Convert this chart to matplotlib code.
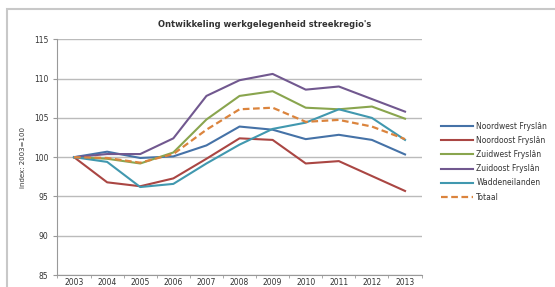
import matplotlib
matplotlib.use("Agg")
import matplotlib.pyplot as plt
from matplotlib.patches import Rectangle

years = [str(y) for y in range(2003, 2014)]
noordwest = [100, 100.7, 99.9, 100.1, 101.5, 103.9, 103.5, 102.3, 102.85, 102.2, 100.35]
noordoost = [100, 96.8, 96.3, 97.3, 99.8, 102.4, 102.2, 99.2, 99.5, 97.6, 95.7]
zuidwest = [100, 99.8, 99.2, 100.6, 104.8, 107.8, 108.4, 106.3, 106.1, 106.45, 104.9]
zuidoost = [100, 100.4, 100.4, 102.4, 107.8, 109.8, 110.6, 108.6, 109.0, 107.4, 105.8]
wadden = [100, 99.4, 96.2, 96.6, 99.2, 101.6, 103.6, 104.4, 106.1, 105.0, 102.2]
totaal = [100, 99.9, 99.3, 100.4, 103.5, 106.1, 106.3, 104.5, 104.75, 103.9, 102.3]

series = [
    ("Noordwest Fryslân", noordwest, "#4572A7", "-"),
    ("Noordoost Fryslân", noordoost, "#AA4643", "-"),
    ("Zuidwest Fryslân", zuidwest, "#89A54E", "-"),
    ("Zuidoost Fryslân", zuidoost, "#71588F", "-"),
    ("Waddeneilanden", wadden, "#4198AF", "-"),
    ("Totaal", totaal, "#DB843D", "--"),
]

fig = plt.figure(figsize=(5.55, 2.87), dpi=100)
# light gray frame around the chart (runs off the right and bottom edge)
fig.patches.append(Rectangle((7 / 555, -0.1), 1.2, 1 - 9 / 287 + 0.1,
                             transform=fig.transFigure, fill=False,
                             edgecolor="#C8C8C8", lw=1.5))

ax = fig.add_axes([0.1036, 0.0418, 0.656, 0.821])
x = list(range(len(years)))
for name, vals, col, ls in series:
    if ls == "--":
        ax.plot(x, vals, color=col, lw=1.6, ls=(0, (3, 1.6)), label=name)
    else:
        ax.plot(x, vals, color=col, lw=1.5, label=name)

ax.set_xlim(-0.5, len(years) - 0.5)
ax.set_ylim(85, 115)
ax.set_yticks(range(85, 116, 5))
ax.set_xticks(x)
ax.set_xticklabels(years)
ax.set_xticks([i - 0.5 for i in range(len(years) + 1)], minor=True)
ax.tick_params(axis="x", which="major", length=0, labelsize=5.5, pad=2, colors="#333333")
ax.tick_params(axis="x", which="minor", length=2.5, color="#999999")
ax.tick_params(axis="y", length=3, labelsize=5.5, colors="#333333", color="#999999")
ax.yaxis.grid(True, color="#BBBBBB", lw=1)
ax.set_axisbelow(True)
for s in ["top", "right"]:
    ax.spines[s].set_visible(False)
for s in ["left", "bottom"]:
    ax.spines[s].set_color("#999999")
    ax.spines[s].set_linewidth(0.8)

ax.set_ylabel("index: 2003=100", fontsize=5, color="#333333", labelpad=6)
ax.set_title("Ontwikkeling werkgelegenheid streekregio's", fontsize=6,
             fontweight="bold", color="#333333", pad=9, x=0.57)

leg = ax.legend(loc="upper left", bbox_to_anchor=(1.035, 0.68), frameon=False,
                fontsize=5.5, handlelength=4.2, labelspacing=0.68, handletextpad=0.4)
for t in leg.get_texts():
    t.set_color("#333333")

plt.savefig("out.png", dpi=100)
